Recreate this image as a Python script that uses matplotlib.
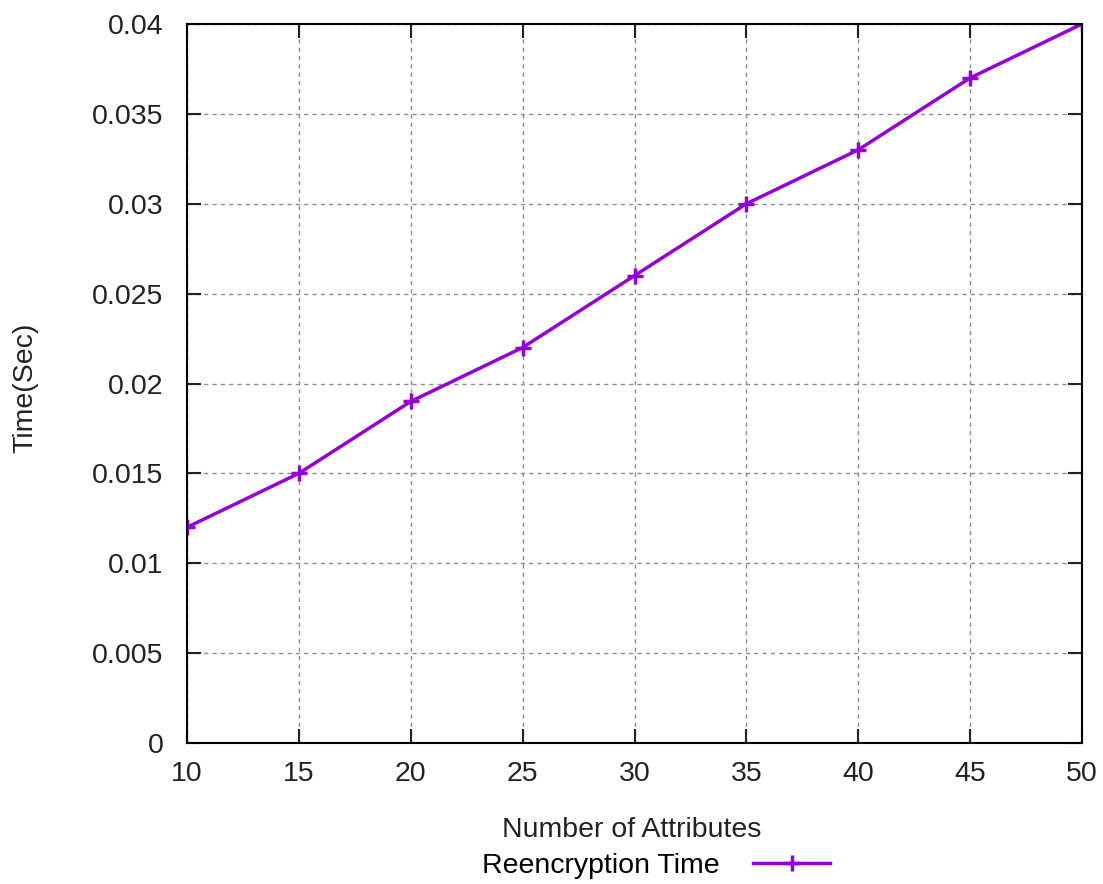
import matplotlib
matplotlib.use("Agg")
import matplotlib.pyplot as plt

attributes = [10, 15, 20, 25, 30, 35, 40, 45, 50]
reencryption_time = [0.012, 0.015, 0.019, 0.022, 0.026, 0.030, 0.033, 0.037, 0.040]
y_ticks = [0, 0.005, 0.01, 0.015, 0.02, 0.025, 0.03, 0.035, 0.04]
y_tick_labels = ["0", "0.005", "0.01", "0.015", "0.02", "0.025", "0.03", "0.035", "0.04"]

plt.rcParams["font.family"] = ["Liberation Sans", "DejaVu Sans"]

fig = plt.figure(figsize=(11.03, 8.84), dpi=100)
ax = fig.add_axes([187 / 1103, 1 - 743 / 884, (1082 - 187) / 1103, (743 - 24) / 884])

line, = ax.plot(attributes, reencryption_time, color="#9400d3", lw=2.5,
                marker="+", ms=12, mew=2.5, label="Reencryption Time")

ax.set_xlim(10, 50)
ax.set_ylim(0, 0.04)
ax.set_xticks(attributes)
ax.set_yticks(y_ticks)
ax.set_yticklabels(y_tick_labels)
ax.tick_params(direction="in", length=10, width=1.5, labelsize=20.5,
               top=True, right=True, colors="#222222")
ax.tick_params(axis="y", pad=17)
ax.tick_params(axis="x", pad=13)
for s in ax.spines.values():
    s.set_linewidth(1.5)
ax.grid(True, color="#8c8c8c", linestyle=(0, (3, 3)), linewidth=1)

fig.text(632 / 1103, 1 - 830 / 884, "Number of Attributes", ha="center", va="center",
         fontsize=20.5, color="#222222")
fig.text(25 / 1103, 1 - 388 / 884, "Time(Sec)", ha="center", va="center",
         rotation=90, fontsize=20.5, color="#222222")

ax.legend(handles=[line], loc="center", bbox_to_anchor=(656 / 1103, 1 - 866 / 884),
          bbox_transform=fig.transFigure, frameon=False, markerfirst=False,
          fontsize=20.5, handlelength=2.7, borderpad=0, handletextpad=1.2)

fig.savefig("out.png", dpi=100)
